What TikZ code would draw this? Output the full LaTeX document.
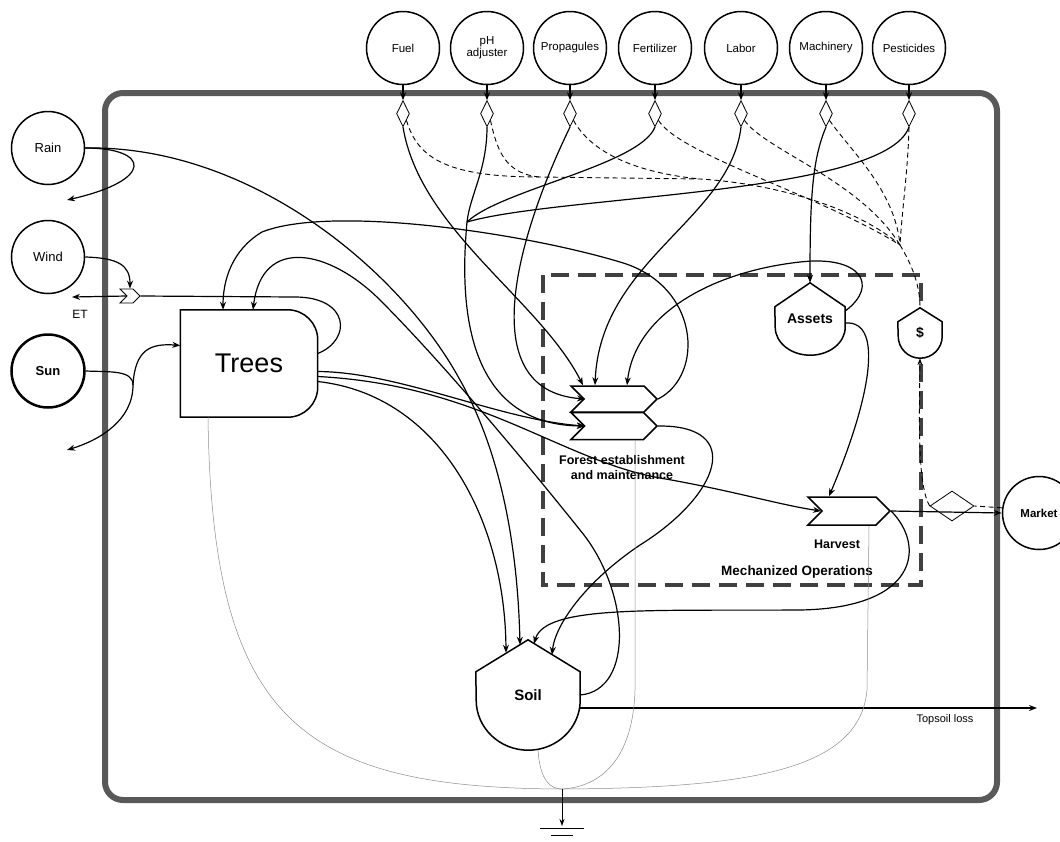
\documentclass[tikz,border=0pt]{standalone}
\usepackage{fontspec}
\setmainfont{Liberation Sans}
\usetikzlibrary{shapes.geometric, shapes.symbols, arrows.meta, positioning, calc, backgrounds}

% outline of a storage tank: pointed roof, straight sides, round bottom
\newcommand{\tankoutline}[4]{%
  \draw[tankline] (#1.north) -- ([yshift=-#2pt]#1.north east) -- ([yshift=#4pt]#1.south east)
    arc[start angle=0, end angle=-180, x radius=#3pt, y radius=#4pt]
    -- ([yshift=-#2pt]#1.north west) -- cycle;}

\begin{document}
\begin{tikzpicture}[x=1pt, y=-1pt,
    flow/.style={line width=1.2pt},
    flowarr/.style={flow, -{Stealth[length=8pt, width=6pt]}},
    money/.style={line width=0.9pt, dash pattern=on 5pt off 3.5pt},
    sinkline/.style={line width=0.5pt, black!45},
    source/.style={circle, draw, line width=1.5pt, fill=white, minimum size=73pt, inner sep=0pt, align=center, font=\fontsize{11.5}{12}\selectfont},
    gate/.style={signal, signal from=west, signal to=east, draw, line width=1.5pt, fill=white, inner sep=0pt},
    xchange/.style={diamond, draw, line width=0.8pt, fill=white, minimum width=13pt, minimum height=26pt, inner sep=0pt},
    tank/.style={inner sep=0pt, font=\bfseries\fontsize{14}{16}\selectfont},
    tankline/.style={line width=1.5pt, fill=white},
    lbl/.style={font=\fontsize{12}{14}\selectfont, align=center}
  ]
  \useasboundingbox (0,0) rectangle (1060,841);

  \begin{pgfonlayer}{background}
    \fill[white] (0,0) rectangle (1060,841);
    \draw[line width=6pt, black!65, rounded corners=18pt] (105,93) rectangle (997,800);
    \draw[line width=4pt, black!75, dash pattern=on 18pt off 9pt] (543,275) rectangle (921,585);
  \end{pgfonlayer}

  % sources
  \node[source] (fuel) at (403,48) {Fuel};
  \node[source] (ph) at (487,48) {pH\\adjuster};
  \node[source] (prop) at (570,48) {Propagules};
  \node[source] (fert) at (655,48) {Fertilizer};
  \node[source] (labor) at (741,48) {Labor};
  \node[source] (mach) at (826,48) {Machinery};
  \node[source] (pest) at (909,48) {Pesticides};
  \node[source, font=\fontsize{13}{14}\selectfont] (rain) at (48,148) {Rain};
  \node[source, font=\fontsize{13}{14}\selectfont] (wind) at (48,257) {Wind};
  \node[source, line width=2.5pt, font=\bfseries\fontsize{13}{14}\selectfont] (sun) at (48,371) {Sun};
  \node[source, font=\bfseries\fontsize{11.5}{12}\selectfont] (market) at (1039,513) {Market};

  % components
  \node[font=\fontsize{27}{30}\selectfont, minimum width=137pt, minimum height=107pt, inner sep=0pt] (trees) at (249,363.5) {Trees};
  \node[gate, minimum width=86pt, minimum height=26pt] (fe1) at (614,399) {};
  \node[gate, minimum width=86pt, minimum height=27pt] (fe2) at (614,426) {};
  \node[lbl, font=\bfseries\fontsize{12.5}{15}\selectfont, below=12pt of fe2, xshift=8pt] (felbl) {Forest establishment\\and maintenance};
  \node[gate, minimum width=82pt, minimum height=28pt] (harvest) at (849,511) {};
  \node[lbl, font=\bfseries\fontsize{12.5}{15}\selectfont, below=11pt of harvest, xshift=-12pt] (harvlbl) {Harvest};
  \node[lbl, font=\bfseries\fontsize{13.5}{15}\selectfont] (mechlbl) at (797,572) {Mechanized Operations};
  \node[tank, minimum width=70pt, minimum height=72pt] (assets) at (810,319) {Assets};
  \node[tank, font=\bfseries\fontsize{15}{17}\selectfont, minimum width=104pt, minimum height=110pt] (soil) at (528,695) {Soil};
  \node[tank, minimum width=44pt, minimum height=50pt] (dollar) at (920,333) {\$};
  \node[gate, line width=0.8pt, minimum width=20pt, minimum height=14pt] (etg) at (130,296) {};
  \node[xchange, minimum width=44pt, minimum height=30pt] (mdiam) at (952,506) {};
  \node[lbl] (etlbl) at (80,314) {ET};
  \node[lbl, font=\fontsize{11}{13}\selectfont] (toplbl) at (945,720) {Topsoil loss};

  \begin{pgfonlayer}{background}
    \draw[tankline] (trees.north west) -- ([xshift=-30pt]trees.north east) arc[start angle=90, end angle=0, radius=30pt]
      -- ([yshift=30pt]trees.south east) arc[start angle=0, end angle=-90, radius=30pt] -- (trees.south west) -- cycle;
    \tankoutline{assets}{24}{35}{28}
    \tankoutline{soil}{32}{52}{50}
    \tankoutline{dollar}{14}{22}{22}
  \end{pgfonlayer}

  \coordinate (runoff) at (67,200);
  \coordinate (etout) at (72,297);
  \coordinate (sunj) at (133,385);
  \coordinate (sunout) at (67,450);
  \coordinate (pj) at (467,222);
  \coordinate (mon) at (900,245);
  \coordinate (mj1) at (540,177);
  \coordinate (mj2) at (700,179);
  \coordinate (sinkc) at (562,789);
  \coordinate (ground) at (562,826);
  \coordinate (topsoil) at (1037,708);

  % purchased inputs cross the boundary
  \foreach \s in {fuel,ph,prop,fert,labor,mach,pest}{
    \node[xchange, below=15pt of \s] (d\s) {};
    \draw[flowarr] (\s) -- (d\s);
  }

  % money
  \draw[money] (dfuel.south east) .. controls (418,160) and (450,177) .. (mj1) -- (mj2) .. controls (780,184) and (860,210) .. (mon);
  \draw[money] (dph.south east) .. controls (497,150) and (505,174) .. (mj1);
  \draw[money] (dprop.south east) .. controls (590,150) and (630,172) .. (mj2);
  \draw[money] (dfert.south east) .. controls (680,155) and (820,195) .. (mon);
  \draw[money] (dlabor.south east) .. controls (765,150) and (860,180) .. (mon);
  \draw[money] (dmach.south east) .. controls (850,150) and (895,190) .. (mon);
  \draw[money] (dpest.south) .. controls (908,170) and (902,210) .. (mon);
  \draw[money] (mon) .. controls (912,265) and (920,285) .. (dollar.north);
  \draw[money, -{Stealth[length=7pt, width=5pt]}] (mdiam.west) .. controls (918,485) and (919,430) .. (dollar.south);
  \draw[money] (market.172) -- (mdiam.east);

  % renewable sources
  \draw[flowarr] (rain.east) .. controls (150,148) and (155,180) .. (runoff);
  \draw[flowarr] (rain.east) .. controls (250,145) and (400,270) .. (460,380) .. controls (505,460) and (518,560) .. ([xshift=-8pt,yshift=-5pt]soil.north);
  \draw[flowarr] (wind.east) .. controls (118,258) and (130,265) .. (etg.north);
  \draw[flow] ([yshift=10pt]trees.east) .. controls (352,340) and (350,297) .. (295,297) -- (etg.east);
  \draw[flowarr] (etg.west) -- (etout);
  \draw[flow] (sun.east) .. controls (110,372) and (133,370) .. (sunj);
  \draw[flowarr] (sunj) .. controls (135,350) and (150,343) .. ([yshift=18pt]trees.west);
  \draw[flowarr] (sunj) .. controls (133,420) and (100,440) .. (sunout);

  % purchased inputs to the operations
  \draw[flowarr] (dfuel.south) .. controls (420,230) and (540,300) .. ([xshift=-31pt]fe1.north);
  \draw[flow] (dph.south) .. controls (487,170) and (470,195) .. (pj);
  \draw[flow] (dfert.south) .. controls (640,165) and (500,190) .. (pj);
  \draw[flow] (dpest.south) .. controls (885,195) and (560,195) .. (pj);
  \draw[flowarr] (pj) .. controls (455,350) and (490,425) .. ([xshift=-29pt]fe2.center);
  \draw[flowarr] (dprop.south) .. controls (520,230) and (470,390) .. ([xshift=-29pt]fe1.center);
  \draw[flowarr] (dlabor.south) .. controls (730,220) and (600,260) .. ([xshift=-19pt]fe1.north);
  \draw[flowarr] (dmach.south) .. controls (812,160) and (810,200) .. (assets.north);
  \draw[flowarr] ([yshift=8pt]assets.east) .. controls (880,285) and (860,255) .. (800,262) .. controls (710,272) and (635,315) .. ([xshift=13pt]fe1.north);
  \draw[flowarr] ([yshift=-4pt]assets.east) .. controls (885,320) and (870,400) .. ([xshift=-20pt]harvest.north);

  % internal flows
  \draw[flowarr] (fe1.east) .. controls (705,375) and (700,285) .. (620,262) .. controls (520,232) and (330,205) .. (262,232) .. controls (232,250) and (223,280) .. ([xshift=-26pt]trees.north);
  \draw[flowarr] (soil.east) .. controls (635,690) and (630,590) .. (580,530) .. controls (520,455) and (440,360) .. (380,300) .. controls (330,250) and (262,235) .. ([xshift=4pt]trees.north);
  \draw[flowarr] ([yshift=-8pt]trees.east) .. controls (400,372) and (500,420) .. ([xshift=-29pt]fe2.center);
  \draw[flowarr] ([yshift=-18pt]trees.east) .. controls (440,395) and (505,520) .. ([xshift=-22pt,yshift=-13pt]soil.north);
  \draw[flowarr] ([yshift=-13pt]trees.east) .. controls (480,385) and (560,460) .. (660,478) .. controls (730,490) and (780,505) .. ([xshift=-28pt]harvest.center);
  \draw[flowarr] (fe2.east) .. controls (745,425) and (720,495) .. (640,545) .. controls (585,582) and (555,625) .. ([xshift=24pt,yshift=-15pt]soil.north);
  \draw[flowarr] (harvest.east) .. controls (925,545) and (920,608) .. (800,610) .. controls (650,611) and (545,605) .. ([xshift=6pt,yshift=-4pt]soil.north);
  \draw[flowarr] (harvest.east) -- (market.west);
  \draw[flowarr] ([yshift=-13pt]soil.east) -- (topsoil);

  % heat sink
  \draw[sinkline] ([xshift=-41pt]trees.south) .. controls (212,720) and (300,788) .. (sinkc);
  \draw[sinkline] ([xshift=21pt]fe2.south) -- (635,690) .. controls (633,760) and (600,787) .. (sinkc);
  \draw[sinkline] ([xshift=20pt]harvest.south) -- (867,690) .. controls (860,770) and (750,788) .. (sinkc);
  \draw[sinkline] ([xshift=10pt]soil.south) .. controls (540,780) and (550,789) .. (sinkc);
  \draw[line width=0.8pt, -{Stealth[length=7pt, width=5pt]}] (sinkc) -- (ground);
  \draw[line width=0.8pt] ([xshift=-22pt,yshift=-2pt]ground) -- ([xshift=22pt,yshift=-2pt]ground);
  \draw[line width=0.8pt] ([xshift=-11pt,yshift=-9pt]ground) -- ([xshift=11pt,yshift=-9pt]ground);
\end{tikzpicture}
\end{document}
